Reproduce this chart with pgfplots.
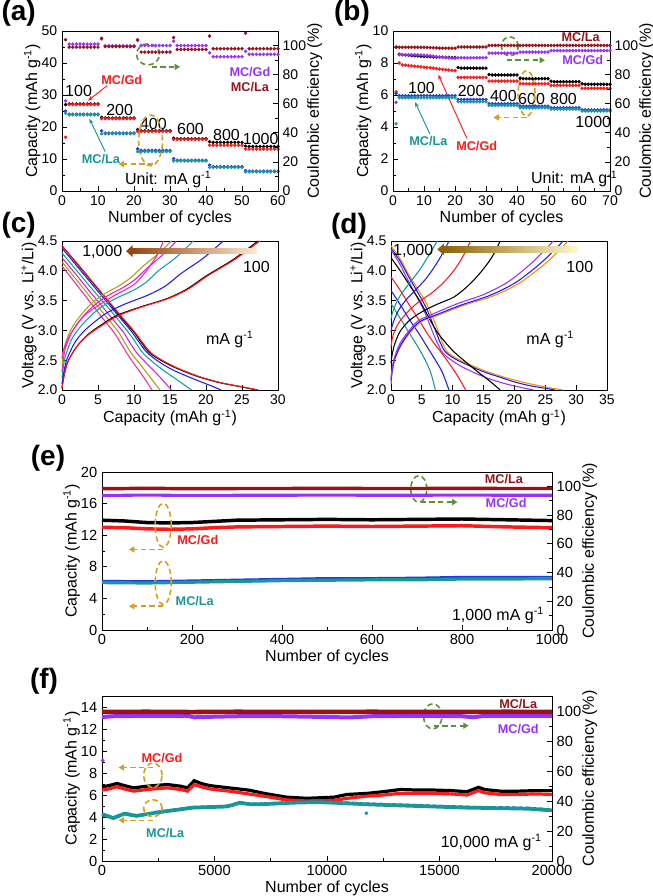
\documentclass[border=0pt]{standalone}
\usepackage{fontspec}
\setmainfont{Liberation Sans}
\usepackage{pgfplots}
\pgfplotsset{compat=1.18}
\usetikzlibrary{arrows.meta}
\definecolor{cred}{RGB}{255,25,25}
\definecolor{cteal}{RGB}{25,150,150}
\definecolor{cblue}{RGB}{30,60,230}
\definecolor{cpurple}{RGB}{150,50,255}
\definecolor{cdred}{RGB}{150,20,25}
\definecolor{cgreen}{RGB}{95,145,55}
\definecolor{cgold}{RGB}{210,160,30}
\definecolor{cpink}{RGB}{255,40,150}
\definecolor{colive}{RGB}{170,160,20}
\definecolor{cmag}{RGB}{220,30,220}
\definecolor{cteal2}{RGB}{20,160,160}
\definecolor{cblue2}{RGB}{30,30,230}
\definecolor{corange}{RGB}{255,140,0}
\definecolor{cbrownL}{RGB}{150,70,15}
\definecolor{cbrownR}{RGB}{252,232,212}
\definecolor{cgoldL}{RGB}{140,100,10}
\definecolor{cgoldR}{RGB}{255,248,205}
\pgfplotsset{
  myax/.style={scale only axis, anchor=south west,
    /pgf/number format/assume math mode=true,
    /pgf/number format/1000 sep={},
    tick label style={font=\fontsize{10.5}{12}\selectfont},
    label style={font=\fontsize{12}{14}\selectfont},
    axis line style={line width=0.7pt},
    every tick/.style={black, line width=0.6pt},
    major tick length=3.5pt, minor tick length=2pt,
    tick align=inside, clip=false, xlabel shift=-3pt, ylabel shift=-6pt},
  big/.style={tick label style={font=\fontsize{11}{13}\selectfont}},
  dots/.style={only marks, mark=*, mark size=1.1pt},
  band/.style={no marks, line width=#1},
  curve/.style={no marks, smooth, line width=0.8pt},
}
\tikzset{
  ga/.style={cgold, line width=1.2pt, dash pattern=on 4pt off 2.5pt},
  gr/.style={cgreen, line width=1.2pt, dash pattern=on 4pt off 2.5pt},
  arrg/.style={cgold, line width=1.2pt, dash pattern=on 4pt off 2.5pt, -{Triangle[length=4pt,width=4.5pt]}},
  arrgr/.style={cgreen, line width=1.2pt, dash pattern=on 4pt off 2.5pt, -{Triangle[length=4pt,width=4.5pt]}},
}
\newcommand{\ann}{\fontsize{12}{14}\selectfont}
\newcommand{\lab}{\fontsize{9.5}{11}\selectfont\bfseries}
\newcommand{\pl}{\fontsize{21}{23}\selectfont\bfseries}
\begin{document}
\begin{tikzpicture}
\useasboundingbox (0,0) rectangle (489.75pt,672pt);
% ---------------- (a) ----------------
\begin{axis}[myax, at={(46.5pt,528.75pt)}, width=162pt, height=120pt,
  xmin=0, xmax=60, ymin=0, ymax=50, xtick={0,10,...,60}, ytick={0,10,...,50},
  minor x tick num=1, minor y tick num=1, ytick pos=left, xtick pos=left,
  xlabel={Number of cycles}, ylabel={Capacity (mAh g\textsuperscript{-1})}]
\addplot[dots, black] coordinates {(1,27.0)(2,27.2)(3,27.2)(4,27.2)(5,27.2)(6,27.2)(7,27.2)(8,27.2)(9,27.2)(10,27.2)
(11,23.0)(12,22.8)(13,22.8)(14,22.8)(15,22.8)(16,22.8)(17,22.8)(18,22.8)(19,22.8)(20,22.8)
(21,19.2)(22,18.8)(23,18.8)(24,18.8)(25,18.8)(26,18.8)(27,18.8)(28,18.8)(29,18.8)(30,18.8)
(31,16.5)(32,16.3)(33,16.3)(34,16.3)(35,16.3)(36,16.3)(37,16.3)(38,16.3)(39,16.3)(40,16.3)
(41,15.4)(42,15.2)(43,15.2)(44,15.2)(45,15.2)(46,15.2)(47,15.2)(48,15.2)(49,15.2)(50,15.2)
(51,14.0)(52,13.9)(53,13.9)(54,13.9)(55,13.9)(56,13.9)(57,13.9)(58,13.9)(59,13.9)(60,13.9)};
\addplot[dots, cred] coordinates {(1,16.8)(2,27.0)(3,27.0)(4,27.0)(5,27.0)(6,27.0)(7,27.0)(8,27.0)(9,27.0)(10,27.0)
(11,22.6)(12,22.6)(13,22.6)(14,22.6)(15,22.6)(16,22.6)(17,22.6)(18,22.6)(19,22.6)(20,22.6)
(21,18.6)(22,18.6)(23,18.6)(24,18.6)(25,18.6)(26,18.6)(27,18.6)(28,18.6)(29,18.6)(30,18.6)
(31,16.1)(32,16.1)(33,16.1)(34,16.1)(35,16.1)(36,16.1)(37,16.1)(38,16.1)(39,16.1)(40,16.1)
(41,14.3)(42,14.3)(43,14.3)(44,14.3)(45,14.3)(46,14.3)(47,14.3)(48,14.3)(49,14.3)(50,14.3)
(51,13.1)(52,13.1)(53,13.1)(54,13.1)(55,13.1)(56,13.1)(57,13.1)(58,13.1)(59,13.1)(60,13.1)};
\addplot[dots, cblue] coordinates {(1,25.0)(2,24.0)(3,24.0)(4,24.0)(5,24.0)(6,24.0)(7,24.0)(8,24.0)(9,24.0)(10,24.0)
(11,18.8)(12,18.1)(13,18.1)(14,18.1)(15,18.1)(16,18.1)(17,18.1)(18,18.1)(19,18.1)(20,18.1)
(21,13.2)(22,12.7)(23,12.7)(24,12.7)(25,12.7)(26,12.7)(27,12.7)(28,12.7)(29,12.7)(30,12.7)
(31,10.1)(32,9.6)(33,9.6)(34,9.6)(35,9.6)(36,9.6)(37,9.6)(38,9.6)(39,9.6)(40,9.6)
(41,8.1)(42,7.6)(43,7.6)(44,7.6)(45,7.6)(46,7.6)(47,7.6)(48,7.6)(49,7.6)(50,7.6)
(51,6.4)(52,6.2)(53,6.2)(54,6.2)(55,6.2)(56,6.2)(57,6.2)(58,6.2)(59,6.2)(60,6.2)};
\addplot[dots, cteal] coordinates {(1,24.3)(2,23.8)(3,23.8)(4,23.8)(5,23.8)(6,23.8)(7,23.8)(8,23.8)(9,23.8)(10,23.8)
(11,17.9)(12,17.9)(13,17.9)(14,17.9)(15,17.9)(16,17.9)(17,17.9)(18,17.9)(19,17.9)(20,17.9)
(21,12.3)(22,12.3)(23,12.3)(24,12.3)(25,12.3)(26,12.3)(27,12.3)(28,12.3)(29,12.3)(30,12.3)
(31,9.4)(32,9.4)(33,9.4)(34,9.4)(35,9.4)(36,9.4)(37,9.4)(38,9.4)(39,9.4)(40,9.4)
(41,7.4)(42,7.4)(43,7.4)(44,7.4)(45,7.4)(46,7.4)(47,7.4)(48,7.4)(49,7.4)(50,7.4)
(51,6.0)(52,6.0)(53,6.0)(54,6.0)(55,6.0)(56,6.0)(57,6.0)(58,6.0)(59,6.0)(60,6.0)};
\node[font=\ann] at (axis cs:4.6,31.3) {100};
\node[font=\ann] at (axis cs:16,25.4) {200};
\node[font=\ann] at (axis cs:25.4,20.8) {400};
\node[font=\ann] at (axis cs:35.7,19.5) {600};
\node[font=\ann] at (axis cs:45.7,17.5) {800};
\node[font=\ann] at (axis cs:55.2,16.4) {1000};
\node[font=\lab, text=cred] at (axis cs:16.6,34.7) {MC/Gd};
\draw[cred, line width=0.7pt, -{Stealth[length=4pt]}] (axis cs:12.5,32.9) -- (axis cs:7.2,28.2);
\node[font=\lab, text=cteal] at (axis cs:10.8,10) {MC/La};
\draw[cteal, line width=0.7pt, -{Stealth[length=4pt]}] (axis cs:12,12.3) -- (axis cs:7.6,22.6);
\node[font=\lab, text=cpurple] at (axis cs:52.2,37.2) {MC/Gd};
\node[font=\lab, text=cdred] at (axis cs:52.2,32.5) {MC/La};
\node[font=\ann] at (axis cs:29.5,3.6) {Unit: mA g\textsuperscript{-1}};
\draw[gr] (axis cs:23.9,42.7) ellipse [x radius=8.6pt, y radius=7.9pt];
\draw[arrgr] (axis cs:24.9,38.8) -- (axis cs:32.8,38.8);
\draw[ga] (axis cs:24.6,15.8) ellipse [x radius=9pt, y radius=19pt];
\draw[arrg] (axis cs:25.4,8.4) -- (axis cs:15.7,8.4);
\end{axis}
\begin{axis}[myax, at={(46.5pt,528.75pt)}, width=162pt, height=120pt,
  xmin=0, xmax=60, ymin=0, ymax=110, ytick={0,20,...,100}, minor y tick num=1,
  axis y line*=right, axis x line=none, ylabel={Coulombic efficiency (\%)}]
\addplot[dots, cpurple] coordinates {(1,62)(2,101)(3,101)(4,101)(5,101)(6,101)(7,101)(8,101)(9,101)(10,101)
(11,104.5)(12,99.8)(13,99.8)(14,99.8)(15,99.8)(16,99.8)(17,99.8)(18,99.8)(19,99.8)(20,99.8)
(21,103.5)(22,100)(23,100)(24,100)(25,100)(26,100)(27,100)(28,100)(29,100)(30,100)
(31,103)(32,100)(33,100)(34,100)(35,100)(36,100)(37,100)(38,100)(39,100)(40,100)
(41,95)(42,92.3)(43,92.3)(44,92.3)(45,92.3)(46,92.3)(47,92.3)(48,92.3)(49,92.3)(50,92.3)
(51,96)(52,94)(53,94)(54,94)(55,94)(56,94)(57,94)(58,94)(59,94)(60,94)};
\addplot[dots, cdred] coordinates {(1,104)(2,98.9)(3,98.9)(4,98.9)(5,98.9)(6,98.9)(7,98.9)(8,98.9)(9,98.9)(10,98.9)
(11,105)(12,99.3)(13,99.3)(14,99.3)(15,99.3)(16,99.3)(17,99.3)(18,99.3)(19,99.3)(20,99.3)
(21,104)(22,95.5)(23,95.5)(24,95.5)(25,95.5)(26,95.5)(27,95.5)(28,95.5)(29,95.5)(30,95.5)
(31,105.5)(32,97.3)(33,97.3)(34,97.3)(35,97.3)(36,97.3)(37,97.3)(38,97.3)(39,97.3)(40,97.3)
(41,106.5)(42,97.8)(43,97.8)(44,97.8)(45,97.8)(46,97.8)(47,97.8)(48,97.8)(49,97.8)(50,97.8)
(51,108.5)(52,97.8)(53,97.8)(54,97.8)(55,97.8)(56,97.8)(57,97.8)(58,97.8)(59,97.8)(60,97.8)};
\end{axis}
\node[font=\pl] at (14pt,662pt) {(a)};
% ---------------- (b) ----------------
\begin{axis}[myax, at={(294.75pt,528.75pt)}, width=162.75pt, height=120pt,
  xmin=0, xmax=70, ymin=0, ymax=10, xtick={0,10,...,70}, ytick={0,2,...,10},
  minor x tick num=1, minor y tick num=1, ytick pos=left, xtick pos=left,
  xlabel={Number of cycles}, ylabel={Capacity (mAh g\textsuperscript{-1})}]
\addplot[dots, black] coordinates {(1,9.0)(2,8.55)(3,8.52)(4,8.5)(5,8.48)(6,8.46)(7,8.45)(8,8.44)(9,8.42)(10,8.41)
(11,8.4)(12,8.39)(13,8.38)(14,8.37)(15,8.36)(16,8.36)(17,8.35)(18,8.35)(19,8.34)(20,8.34)
(21,7.72)(22,7.68)(23,7.68)(24,7.68)(25,7.68)(26,7.68)(27,7.68)(28,7.68)(29,7.68)(30,7.68)
(31,7.28)(32,7.25)(33,7.25)(34,7.25)(35,7.25)(36,7.25)(37,7.25)(38,7.25)(39,7.25)(40,7.25)
(41,7.05)(42,7.02)(43,7.02)(44,7.02)(45,7.02)(46,7.02)(47,7.02)(48,7.02)(49,7.02)(50,7.02)
(51,6.86)(52,6.83)(53,6.83)(54,6.83)(55,6.83)(56,6.83)(57,6.83)(58,6.83)(59,6.83)(60,6.83)
(61,6.7)(62,6.67)(63,6.67)(64,6.67)(65,6.67)(66,6.67)(67,6.67)(68,6.67)(69,6.67)(70,6.67)};
\addplot[dots, cred] coordinates {(1,6.2)(2,8.0)(3,7.88)(4,7.86)(5,7.84)(6,7.82)(7,7.8)(8,7.78)(9,7.76)(10,7.74)
(11,7.72)(12,7.7)(13,7.68)(14,7.65)(15,7.62)(16,7.6)(17,7.58)(18,7.56)(19,7.54)(20,7.52)
(21,7.1)(22,7.1)(23,7.1)(24,7.1)(25,7.1)(26,7.1)(27,7.1)(28,7.1)(29,7.1)(30,7.1)
(31,6.87)(32,6.87)(33,6.87)(34,6.87)(35,6.87)(36,6.87)(37,6.87)(38,6.87)(39,6.87)(40,6.87)
(41,6.7)(42,6.7)(43,6.7)(44,6.7)(45,6.7)(46,6.7)(47,6.7)(48,6.7)(49,6.7)(50,6.7)
(51,6.6)(52,6.6)(53,6.6)(54,6.6)(55,6.6)(56,6.6)(57,6.6)(58,6.6)(59,6.6)(60,6.6)
(61,6.42)(62,6.42)(63,6.42)(64,6.42)(65,6.42)(66,6.42)(67,6.42)(68,6.42)(69,6.42)(70,6.42)};
\addplot[dots, cblue] coordinates {(1,6.1)(2,5.95)(3,5.95)(4,5.95)(5,5.95)(6,5.95)(7,5.95)(8,5.95)(9,5.95)(10,5.95)
(11,5.95)(12,5.95)(13,5.95)(14,5.95)(15,5.95)(16,5.95)(17,5.95)(18,5.95)(19,5.95)(20,5.95)
(21,5.72)(22,5.72)(23,5.72)(24,5.72)(25,5.72)(26,5.72)(27,5.72)(28,5.72)(29,5.72)(30,5.72)
(31,5.45)(32,5.45)(33,5.45)(34,5.45)(35,5.45)(36,5.45)(37,5.45)(38,5.45)(39,5.45)(40,5.45)
(41,5.3)(42,5.3)(43,5.3)(44,5.3)(45,5.3)(46,5.3)(47,5.3)(48,5.3)(49,5.3)(50,5.3)
(51,5.2)(52,5.2)(53,5.2)(54,5.2)(55,5.2)(56,5.2)(57,5.2)(58,5.2)(59,5.2)(60,5.2)
(61,5.07)(62,5.07)(63,5.07)(64,5.07)(65,5.07)(66,5.07)(67,5.07)(68,5.07)(69,5.07)(70,5.07)};
\addplot[dots, cteal] coordinates {(1,4.2)(2,5.83)(3,5.83)(4,5.83)(5,5.83)(6,5.83)(7,5.83)(8,5.83)(9,5.83)(10,5.83)
(11,5.83)(12,5.83)(13,5.83)(14,5.83)(15,5.83)(16,5.83)(17,5.83)(18,5.83)(19,5.83)(20,5.83)
(21,5.58)(22,5.58)(23,5.58)(24,5.58)(25,5.58)(26,5.58)(27,5.58)(28,5.58)(29,5.58)(30,5.58)
(31,5.35)(32,5.35)(33,5.35)(34,5.35)(35,5.35)(36,5.35)(37,5.35)(38,5.35)(39,5.35)(40,5.35)
(41,5.2)(42,5.2)(43,5.2)(44,5.2)(45,5.2)(46,5.2)(47,5.2)(48,5.2)(49,5.2)(50,5.2)
(51,5.12)(52,5.12)(53,5.12)(54,5.12)(55,5.12)(56,5.12)(57,5.12)(58,5.12)(59,5.12)(60,5.12)
(61,5.0)(62,5.0)(63,5.0)(64,5.0)(65,5.0)(66,5.0)(67,5.0)(68,5.0)(69,5.0)(70,5.0)};
\node[font=\ann] at (axis cs:9.2,6.44) {100};
\node[font=\ann] at (axis cs:25.2,6.23) {200};
\node[font=\ann] at (axis cs:35.6,5.92) {400};
\node[font=\ann] at (axis cs:44.7,5.77) {600};
\node[font=\ann] at (axis cs:55,5.77) {800};
\node[font=\ann] at (axis cs:64.6,4.31) {1000};
\node[font=\lab, text=cdred] at (axis cs:60.5,9.6) {MC/La};
\node[font=\lab, text=cpurple] at (axis cs:61.2,8.2) {MC/Gd};
\node[font=\lab, text=cteal] at (axis cs:11.4,3.1) {MC/La};
\draw[cteal, line width=0.7pt, -{Stealth[length=4pt]}] (axis cs:11.9,3.56) -- (axis cs:7.1,5.56);
\node[font=\lab, text=cred] at (axis cs:27,2.8) {MC/Gd};
\draw[cred, line width=0.7pt, -{Stealth[length=4pt]}] (axis cs:23.8,3.3) -- (axis cs:14.6,7.27);
\node[font=\ann] at (axis cs:58.5,0.75) {Unit: mA g\textsuperscript{-1}};
\draw[gr] (axis cs:37.7,9.04) ellipse [x radius=6.3pt, y radius=7.1pt];
\draw[arrgr] (axis cs:36.7,8.17) -- (axis cs:49,8.17);
\draw[ga] (axis cs:43.1,6.1) ellipse [x radius=6.3pt, y radius=17pt];
\draw[arrg] (axis cs:43.1,4.6) -- (axis cs:32.4,4.6);
\end{axis}
\begin{axis}[myax, at={(294.75pt,528.75pt)}, width=162.75pt, height=120pt,
  xmin=0, xmax=70, ymin=0, ymax=110, ytick={0,20,...,100}, minor y tick num=1,
  axis y line*=right, axis x line=none, ylabel={Coulombic efficiency (\%)}]
\addplot[dots, cpurple] coordinates {(1,61)(2,93.7)(3,93.7)(4,93.7)(5,93.7)(6,93.7)(7,93.7)(8,93.6)(9,93.5)(10,93.4)
(11,93.2)(12,93.0)(13,92.7)(14,92.4)(15,92.1)(16,91.9)(17,91.7)(18,91.5)(19,91.4)(20,91.3)
(21,91.6)(22,91.6)(23,91.6)(24,91.6)(25,91.6)(26,91.6)(27,91.6)(28,91.6)(29,91.6)(30,91.6)
(31,94.8)(32,94.8)(33,94.8)(34,94.8)(35,94.8)(36,94.8)(37,94.8)(38,94.8)(39,94.8)(40,94.8)
(41,95.5)(42,95.5)(43,95.5)(44,95.5)(45,95.5)(46,95.5)(47,95.5)(48,95.5)(49,95.5)(50,95.5)
(51,96.5)(52,96.5)(53,96.5)(54,96.5)(55,96.5)(56,96.5)(57,96.5)(58,96.5)(59,96.5)(60,96.5)
(61,96.5)(62,96.5)(63,96.5)(64,96.5)(65,96.5)(66,96.5)(67,96.5)(68,96.5)(69,96.5)(70,96.5)};
\addplot[dots, cdred] coordinates {(1,98.8)(2,98.8)(3,98.8)(4,98.8)(5,98.8)(6,98.8)(7,98.8)(8,98.8)(9,98.8)(10,98.8)
(11,98.7)(12,98.6)(13,98.5)(14,98.4)(15,98.2)(16,98.2)(17,98.2)(18,98.2)(19,98.2)(20,98.2)
(21,99)(22,99)(23,99)(24,99)(25,99)(26,99)(27,99)(28,99)(29,99)(30,99)
(31,100.1)(32,100.1)(33,100.1)(34,100.1)(35,100.1)(36,100.1)(37,100.1)(38,100.1)(39,100.1)(40,100.1)
(41,100.1)(42,100.1)(43,100.1)(44,100.1)(45,100.1)(46,100.1)(47,100.1)(48,100.1)(49,100.1)(50,100.1)
(51,100.1)(52,100.1)(53,100.1)(54,100.1)(55,100.1)(56,100.1)(57,100.1)(58,100.1)(59,100.1)(60,100.1)
(61,100.1)(62,100.1)(63,100.1)(64,100.1)(65,100.1)(66,100.1)(67,100.1)(68,100.1)(69,100.1)(70,100.1)};
\end{axis}
\node[font=\pl] at (264pt,662pt) {(b)};
% ---------------- (c) ----------------
\begin{axis}[myax, at={(46.5pt,379.5pt)}, width=162pt, height=111.75pt,
  xmin=0, xmax=30, ymin=2, ymax=4.5, xtick={0,5,...,30}, ytick={2,2.5,...,4.5},
  yticklabel style={/pgf/number format/.cd, fixed, fixed zerofill, precision=1},
  xtick pos=left, ytick pos=left,
  xlabel={Capacity (mAh g\textsuperscript{-1})}, ylabel={Voltage (V vs. Li\textsuperscript{+}/Li)}]
\addplot[curve, black] coordinates {(0,4.42)(2,4.13)(4,3.84)(6,3.55)(8,3.25)(10,2.97)(11,2.8)(12.2,2.62)(14,2.48)(16,2.36)(19,2.22)(22,2.12)(25,2.05)(27,2.0)};
\addplot[curve, cred] coordinates {(0,4.42)(2,4.14)(4,3.85)(6,3.56)(8,3.27)(10,2.99)(11.1,2.81)(12.4,2.62)(14.2,2.48)(16.2,2.36)(19.2,2.22)(22.2,2.12)(25.2,2.05)(27.3,2.0)};
\addplot[curve, cblue2] coordinates {(0,4.38)(2,4.09)(4,3.8)(6,3.51)(8,3.22)(9.6,2.99)(10.6,2.82)(11.8,2.63)(13.5,2.47)(15.5,2.33)(18,2.2)(20.5,2.08)(22.1,2.0)};
\addplot[curve, cteal2] coordinates {(0,4.3)(2,4.01)(4,3.72)(6,3.44)(8,3.15)(9.2,2.97)(10.1,2.82)(11.1,2.64)(12.5,2.48)(14.2,2.32)(16,2.17)(18,2.0)};
\addplot[curve, cmag] coordinates {(0,4.22)(2,3.93)(4,3.63)(6,3.34)(8,3.05)(8.6,2.96)(9.4,2.8)(10.4,2.62)(11.8,2.44)(13.5,2.23)(15.2,2.0)};
\addplot[curve, colive] coordinates {(0,4.15)(2,3.85)(4,3.55)(6,3.25)(7.8,2.98)(8.6,2.82)(9.6,2.62)(10.8,2.44)(12.2,2.22)(13.6,2.0)};
\addplot[curve, cpink] coordinates {(0,4.08)(2,3.77)(4,3.46)(6,3.15)(7.2,2.97)(8,2.82)(9,2.62)(10,2.44)(11.2,2.24)(12.5,2.0)};
\addplot[curve, black] coordinates {(0,2.03)(0.3,2.25)(0.8,2.47)(2,2.72)(3.5,2.92)(5.3,3.08)(7.6,3.25)(10.8,3.39)(14.5,3.53)(17.3,3.69)(20.1,3.92)(23.8,4.19)(27.2,4.5)};
\addplot[curve, cred] coordinates {(0,2.03)(0.3,2.25)(0.8,2.47)(2,2.72)(3.5,2.91)(5.4,3.07)(7.7,3.24)(11,3.39)(14.7,3.53)(17.5,3.69)(20.3,3.92)(24,4.19)(27.5,4.5)};
\addplot[curve, cblue2] coordinates {(0,2.1)(0.25,2.3)(0.7,2.52)(1.7,2.78)(2.9,2.97)(4.4,3.13)(6.3,3.3)(8.9,3.45)(11.9,3.59)(14.3,3.74)(16.6,3.96)(19.6,4.21)(22.4,4.5)};
\addplot[curve, cteal2] coordinates {(0,2.2)(0.2,2.4)(0.55,2.6)(1.35,2.85)(2.35,3.03)(3.55,3.19)(5.1,3.36)(7.2,3.52)(9.7,3.66)(11.6,3.8)(13.4,4.0)(15.9,4.23)(18.2,4.5)};
\addplot[curve, cmag] coordinates {(0,2.3)(0.18,2.5)(0.47,2.7)(1.2,2.93)(2.05,3.1)(3.1,3.26)(4.45,3.42)(6.3,3.58)(8.5,3.72)(10.1,3.85)(11.8,4.04)(13.9,4.26)(15.9,4.5)};
\addplot[curve, colive] coordinates {(0,2.4)(0.17,2.58)(0.45,2.77)(1.1,2.98)(1.95,3.15)(3,3.31)(4.25,3.47)(6,3.62)(8.1,3.76)(9.7,3.9)(11.2,4.07)(13.3,4.28)(15.2,4.5)};
\addplot[curve, cpink] coordinates {(0,2.53)(0.15,2.65)(0.7,2.82)(1.3,2.96)(2.1,3.1)(3.2,3.26)(5.3,3.44)(7.5,3.6)(9.9,3.76)(11.2,3.92)(12.2,4.08)(13.3,4.28)(14.1,4.5)};
\shade[left color=cbrownL, right color=cbrownR] (axis cs:9.7,4.285) rectangle (axis cs:27,4.375);
\fill[cbrownL] (axis cs:8.9,4.33) -- (axis cs:9.8,4.43) -- (axis cs:9.8,4.23) -- cycle;
\node[font=\ann] at (axis cs:5.6,4.32) {1,000};
\node[font=\ann] at (axis cs:27,4.06) {100};
\node[font=\ann] at (axis cs:23.3,2.85) {mA g\textsuperscript{-1}};
\end{axis}
\node[font=\pl] at (14pt,503pt) {(c)};
% ---------------- (d) ----------------
\begin{axis}[myax, at={(293.25pt,379.5pt)}, width=162pt, height=111.75pt,
  xmin=0, xmax=35, ymin=2, ymax=4.5, xtick={0,5,...,35}, ytick={2,2.5,...,4.5},
  yticklabel style={/pgf/number format/.cd, fixed, fixed zerofill, precision=1},
  xtick pos=left, ytick pos=left,
  xlabel={Capacity (mAh g\textsuperscript{-1})}, ylabel={Voltage (V vs. Li\textsuperscript{+}/Li)}]
\addplot[curve, corange] coordinates {(0,4.42)(1.5,4.2)(2.7,3.97)(4.3,3.7)(5.9,3.42)(7.5,3.03)(8.3,2.8)(9.1,2.64)(10.8,2.52)(12.9,2.42)(15.5,2.31)(18.2,2.22)(21,2.14)(23.6,2.08)(26,2.03)(27.9,2.0)};
\addplot[curve, cblue2] coordinates {(0,4.38)(1.5,4.16)(2.7,3.93)(4.2,3.66)(5.7,3.38)(7.2,3.0)(8,2.79)(8.8,2.64)(10.4,2.52)(12.4,2.42)(14.9,2.31)(17.5,2.22)(20.2,2.13)(22.6,2.07)(24.9,2.03)(26.6,2.0)};
\addplot[curve, cpurple] coordinates {(0,4.35)(1.4,4.12)(2.5,3.89)(4,3.6)(5.4,3.32)(6.8,2.96)(7.6,2.77)(8.4,2.62)(9.8,2.5)(11.5,2.39)(13.5,2.29)(15.6,2.2)(18,2.12)(20.3,2.06)(23.1,2.0)};
\addplot[curve, black] coordinates {(0,4.22)(1.5,4.0)(3,3.76)(4.8,3.47)(6.2,3.2)(7.5,2.97)(8.8,2.8)(10.2,2.64)(12,2.48)(14,2.31)(16,2.15)(17.7,2.0)};
\addplot[curve, cred] coordinates {(0,3.9)(1.5,3.67)(3,3.42)(4.5,3.18)(5.8,2.96)(7,2.78)(8.5,2.58)(10,2.36)(11,2.2)(12.1,2.0)};
\addplot[curve, cblue2] coordinates {(0,3.67)(1.5,3.43)(3,3.18)(4.5,2.95)(6,2.7)(7.2,2.5)(8.3,2.3)(9.4,2.0)};
\addplot[curve, cteal] coordinates {(0,3.45)(1.5,3.2)(3,2.95)(4.5,2.7)(5.7,2.47)(6.5,2.27)(7.2,2.0)};
\addplot[curve, corange] coordinates {(0,2.1)(0.2,2.3)(0.6,2.5)(1.5,2.72)(3,2.95)(4.8,3.14)(7.5,3.25)(11.8,3.42)(16.6,3.58)(20.9,3.8)(25.2,4.14)(28.7,4.5)};
\addplot[curve, cblue2] coordinates {(0,2.15)(0.2,2.33)(0.6,2.52)(1.5,2.74)(2.9,2.96)(4.7,3.15)(7.3,3.26)(11.5,3.43)(16.1,3.59)(20.3,3.81)(24.5,4.15)(27.9,4.5)};
\addplot[curve, cpurple] coordinates {(0,2.2)(0.2,2.38)(0.6,2.56)(1.4,2.77)(2.8,2.98)(4.4,3.16)(6.9,3.28)(10.8,3.45)(15.2,3.61)(19.2,3.83)(23.1,4.16)(26.3,4.5)};
\addplot[curve, black] coordinates {(0,2.45)(0.2,2.6)(0.6,2.77)(1.4,2.97)(2.8,3.15)(4.8,3.3)(7.5,3.44)(10.2,3.56)(12.5,3.75)(14.5,3.97)(16.3,4.22)(17.7,4.5)};
\addplot[curve, cred] coordinates {(0,2.72)(0.2,2.86)(0.6,3.0)(1.4,3.15)(2.8,3.32)(4.5,3.48)(6.5,3.62)(8.5,3.8)(10.3,4.02)(11.7,4.25)(12.9,4.5)};
\addplot[curve, cblue2] coordinates {(0,2.97)(0.2,3.08)(0.6,3.2)(1.3,3.35)(2.5,3.52)(4,3.68)(5.6,3.86)(7,4.06)(8.3,4.28)(9.4,4.5)};
\addplot[curve, cteal] coordinates {(0,3.19)(0.2,3.28)(0.6,3.4)(1.3,3.55)(2.3,3.7)(3.5,3.86)(4.8,4.04)(6,4.24)(7.5,4.5)};
\shade[left color=cgoldL, right color=cgoldR] (axis cs:8.5,4.31) rectangle (axis cs:30.3,4.41);
\fill[cgoldL] (axis cs:7.5,4.36) -- (axis cs:8.6,4.46) -- (axis cs:8.6,4.26) -- cycle;
\node[font=\ann] at (axis cs:3.6,4.34) {1,000};
\node[font=\ann] at (axis cs:30.6,4.07) {100};
\node[font=\ann] at (axis cs:25.8,2.85) {mA g\textsuperscript{-1}};
\end{axis}
\node[font=\pl] at (261.75pt,502.5pt) {(d)};
% ---------------- (e) ----------------
\begin{axis}[myax, big, at={(76.5pt,199.5pt)}, width=337.5pt, height=118.5pt,
  xmin=0, xmax=1000, ymin=0, ymax=20, xtick={0,200,...,1000}, ytick={0,4,...,20},
  minor x tick num=1, minor y tick num=1, xtick pos=left, ytick pos=left,
  xlabel={Number of cycles}, ylabel={Capacity (mAh g\textsuperscript{-1})}]
\addplot[band=2.6pt, black] coordinates {(0,13.9)(50,13.8)(100,13.6)(150,13.55)(200,13.6)(250,13.75)(300,13.9)(400,13.95)(500,14.0)(600,13.95)(700,14.0)(800,14.05)(900,13.95)(1000,13.85)};
\addplot[band=2.6pt, cred] coordinates {(0,13.0)(50,12.95)(100,12.8)(150,12.75)(200,12.8)(250,12.95)(300,13.05)(400,13.1)(500,13.15)(600,13.1)(700,13.15)(800,13.2)(900,13.05)(1000,12.95)};
\addplot[band=2.4pt, cblue] coordinates {(0,6.15)(100,6.1)(200,6.2)(300,6.3)(400,6.4)(500,6.5)(600,6.5)(700,6.55)(800,6.65)(900,6.65)(1000,6.65)};
\addplot[band=2.4pt, cteal] coordinates {(0,6.0)(100,5.95)(200,6.05)(300,6.15)(400,6.25)(500,6.3)(600,6.35)(700,6.35)(800,6.45)(900,6.45)(1000,6.5)};
\draw[ga] (axis cs:136,13.25) ellipse [x radius=6pt, y radius=16.5pt];
\draw[arrg] (axis cs:136,10.2) -- (axis cs:60,10.2);
\node[font=\lab, text=cred] at (axis cs:213,11.4) {MC/Gd};
\draw[ga] (axis cs:136,6.0) ellipse [x radius=6pt, y radius=16.5pt];
\draw[arrg] (axis cs:136,3.0) -- (axis cs:60,3.0);
\node[font=\lab, text=cteal] at (axis cs:206,3.7) {MC/La};
\draw[gr] (axis cs:704,17.85) ellipse [x radius=6pt, y radius=10pt];
\draw[arrgr] (axis cs:708,16.2) -- (axis cs:790,16.2);
\node[font=\lab, text=cdred] at (axis cs:893,19.1) {MC/La};
\node[font=\lab, text=cpurple] at (axis cs:898,16.1) {MC/Gd};
\node[font=\ann] at (axis cs:880,1.8) {1,000 mA g\textsuperscript{-1}};
\end{axis}
\begin{axis}[myax, big, at={(76.5pt,199.5pt)}, width=337.5pt, height=118.5pt,
  xmin=0, xmax=1000, ymin=0, ymax=110, ytick={0,20,...,100}, minor y tick num=1,
  axis y line*=right, axis x line=none, ylabel={Coulombic efficiency (\%)}]
\addplot[band=2.3pt, cpurple] coordinates {(0,93.7)(100,93.9)(200,93.7)(300,93.8)(400,93.8)(500,93.9)(600,93.8)(700,93.8)(800,93.9)(900,93.8)(1000,93.8)};
\addplot[band=2.6pt, cdred] coordinates {(0,98.4)(100,98.6)(200,98.4)(300,98.5)(400,98.5)(500,98.6)(600,98.5)(700,98.5)(800,98.6)(900,98.5)(1000,98.5)};
\end{axis}
\node[font=\pl] at (36pt,328.5pt) {(e)};
% ---------------- (f) ----------------
\begin{axis}[myax, big, at={(76.5pt,26.25pt)}, width=337.5pt, height=123.75pt,
  xmin=0, xmax=20000, ymin=0, ymax=15, xtick={0,5000,...,20000}, ytick={0,2,...,14},
  minor x tick num=1, minor y tick num=1, xtick pos=left, ytick pos=left,
  scaled x ticks=false,
  xlabel={Number of cycles}, ylabel={Capacity (mAh g\textsuperscript{-1})}]
\addplot[band=2.4pt, black] coordinates {(0,6.75)(300,6.85)(670,7.05)(1000,6.85)(1400,6.65)(2000,6.8)(2900,6.95)(3500,6.8)(3800,6.65)(4100,7.3)(4400,7.05)(4800,6.85)(5850,6.6)(6500,6.45)(7330,6.1)(8220,5.8)(9110,5.7)(10300,5.8)(10900,6.05)(11800,6.15)(12500,6.3)(13260,6.5)(14000,6.45)(14740,6.45)(15500,6.4)(16220,6.3)(16740,6.7)(17000,6.5)(17700,6.35)(18500,6.35)(19300,6.4)(20000,6.4)};
\addplot[band=2.4pt, cred] coordinates {(0,6.45)(300,6.55)(670,6.75)(1000,6.55)(1400,6.35)(2000,6.5)(2900,6.65)(3500,6.5)(3800,6.35)(4100,6.95)(4400,6.75)(4800,6.55)(5850,6.3)(6500,6.1)(7330,5.85)(8220,5.55)(9110,5.45)(10300,5.5)(10900,5.7)(11800,5.9)(12500,6.0)(13260,6.15)(14000,6.15)(14740,6.15)(15500,6.1)(16220,6.0)(16740,6.4)(17000,6.2)(17700,6.05)(18500,6.05)(19300,6.1)(20000,6.05)};
\addplot[no marks, cblue, line width=1pt, dash pattern=on 3pt off 2pt] coordinates {(0,4.35)(500,4.0)(1000,4.4)(1530,4.2)(2560,4.55)(3500,4.8)(4040,4.95)(5520,5.05)(5820,5.2)(6120,5.4)(6600,5.25)(7000,5.25)(8480,5.4)(9500,5.45)(10300,5.4)(11800,5.27)(13260,5.17)(14740,5.07)(16220,4.97)(17700,4.92)(19000,4.87)(20000,4.72)};
\addplot[band=2.8pt, cteal] coordinates {(0,4.25)(500,3.9)(1000,4.3)(1530,4.1)(2560,4.45)(3500,4.7)(4040,4.85)(5520,4.95)(5820,5.1)(6120,5.3)(6600,5.15)(7000,5.15)(8480,5.3)(9500,5.35)(10300,5.3)(11800,5.15)(13260,5.05)(14740,4.95)(16220,4.85)(17700,4.8)(19000,4.75)(20000,4.6)};
\addplot[only marks, mark=*, mark size=1.2pt, cteal] coordinates {(11750,4.35)};
\draw[ga] (axis cs:2260,7.8) ellipse [x radius=6.9pt, y radius=9.1pt];
\draw[arrg] (axis cs:2260,8.5) -- (axis cs:740,8.5);
\node[font=\lab, text=cred] at (axis cs:2670,9.4) {MC/Gd};
\draw[ga] (axis cs:2260,4.8) ellipse [x radius=6.9pt, y radius=6.3pt];
\draw[arrg] (axis cs:2260,3.7) -- (axis cs:740,3.7);
\node[font=\lab, text=cteal] at (axis cs:2810,2.5) {MC/La};
\draw[gr] (axis cs:14700,13.15) ellipse [x radius=6.9pt, y radius=9.4pt];
\draw[arrgr] (axis cs:14740,12.3) -- (axis cs:16300,12.3);
\node[font=\lab, text=cdred] at (axis cs:18500,14.3) {MC/La};
\node[font=\lab, text=cpurple] at (axis cs:18500,12.0) {MC/Gd};
\node[font=\ann] at (axis cs:17300,1.7) {10,000 mA g\textsuperscript{-1}};
\end{axis}
\begin{axis}[myax, big, at={(76.5pt,26.25pt)}, width=337.5pt, height=123.75pt,
  xmin=0, xmax=20000, ymin=0, ymax=110, ytick={0,20,...,100}, minor y tick num=1,
  axis y line*=right, axis x line=none, ylabel={Coulombic efficiency (\%)}]
\addplot[band=3pt, cpurple] coordinates {(0,96)(500,96.5)(2000,96.8)(3800,96.8)(4100,95.8)(5000,96.2)(6000,96.5)(8000,96.5)(10000,96)(11000,95.7)(12000,96.5)(14000,96.8)(16000,96.5)(16500,95.8)(17000,96.8)(20000,96.8)};
\addplot[band=3.4pt, cdred] coordinates {(0,99.4)(2000,99.5)(4000,99.3)(6000,99.5)(8000,99.4)(10000,99.4)(12000,99.5)(14000,99.4)(16000,99.4)(18000,99.5)(20000,99.4)};
\addplot[only marks, mark=*, mark size=1.2pt, cpurple] coordinates {(30,67)};
\end{axis}
\node[font=\pl] at (33pt,161pt) {(f)};
\end{tikzpicture}
\end{document}
